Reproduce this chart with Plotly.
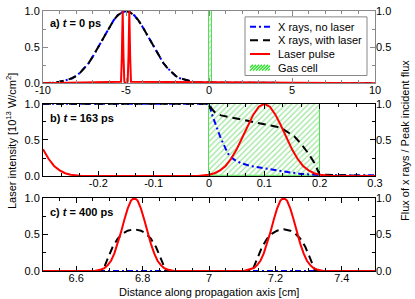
import plotly.graph_objects as go

# ---------------- data ----------------
# Panel a) t = 0 ps
xa_xray = [-10, -9.75, -9.5, -9.25, -9.0, -8.75, -8.5, -8.25, -8.0, -7.75, -7.5, -7.25, -7.0,
           -6.75, -6.5, -6.25, -6.0, -5.75, -5.5, -5.25, -5.0, -4.75, -4.5, -4.25, -4.0,
           -3.75, -3.5, -3.25, -3.0, -2.75, -2.5, -2.25, -2.0, -1.75, -1.5, -1.25, -1.0,
           -0.75, -0.5, -0.25, 0.0, 10.0]
ya_xray_nolaser = [0.00, 0.00, 0.01, 0.01, 0.02, 0.03, 0.05, 0.07, 0.10, 0.15, 0.21, 0.28, 0.37,
                   0.47, 0.57, 0.68, 0.78, 0.87, 0.94, 0.98, 1.00, 0.98, 0.94, 0.87, 0.78,
                   0.68, 0.57, 0.47, 0.37, 0.28, 0.21, 0.15, 0.10, 0.07, 0.05, 0.03, 0.02,
                   0.01, 0.01, 0.00, 0.00, 0.00]
ya_xray_laser = list(ya_xray_nolaser)
xa_laser = [-10, -5.3, -5.25, -5.2, -5.15, -5.1, -5.0, -4.9, -4.85, -4.8, -4.75, -4.7, 10]
ya_laser = [0.0, 0.02, 0.37, 1.00, 0.37, 0.02, 0.0, 0.02, 0.37, 1.00, 0.37, 0.02, 0.0]

# Panel b) t = 163 ps
xb_nolaser = [-0.3, 0.0, 0.005, 0.012, 0.021, 0.03, 0.036, 0.045, 0.057, 0.075, 0.1, 0.13,
              0.166, 0.2, 0.3]
yb_nolaser = [1.0, 1.0, 0.86, 0.71, 0.53, 0.38, 0.29, 0.23, 0.18, 0.14, 0.105, 0.07,
              0.03, 0.015, 0.01]
xb_laser_x = [-0.3, 0.0, 0.005, 0.012, 0.022, 0.046, 0.07, 0.1, 0.124, 0.136, 0.154, 0.166,
              0.178, 0.19, 0.2, 0.3]
yb_laser_x = [1.0, 1.0, 0.93, 0.87, 0.84, 0.80, 0.77, 0.72, 0.68, 0.64, 0.55, 0.45,
              0.33, 0.19, 0.02, 0.0]
xb_pulse = [-0.3, -0.29, -0.28, -0.27, -0.26, -0.25, -0.23, -0.2, -0.02, 0.0, 0.01, 0.02,
            0.03, 0.04, 0.05, 0.06, 0.07, 0.08, 0.09, 0.10, 0.11, 0.12, 0.13, 0.14, 0.15,
            0.16, 0.17, 0.18, 0.19, 0.20, 0.22, 0.25, 0.3]
yb_pulse = [0.37, 0.24, 0.14, 0.08, 0.04, 0.02, 0.00, 0.0, 0.0, 0.02, 0.04, 0.08,
            0.14, 0.24, 0.37, 0.53, 0.70, 0.85, 0.96, 1.00, 0.96, 0.85, 0.70, 0.53, 0.37,
            0.24, 0.14, 0.08, 0.04, 0.02, 0.00, 0.0, 0.0]

# Panel c) t = 400 ps
xc_nolaser = [6.5, 7.5]
yc_nolaser = [0.0, 0.0]
xc_laser_x = [6.5, 6.68, 6.695, 6.71, 6.725, 6.74, 6.755, 6.775, 6.795, 6.81, 6.825, 6.84,
              6.855, 6.87, 7.13, 7.145, 7.16, 7.175, 7.19, 7.205, 7.225, 7.245, 7.26, 7.275,
              7.29, 7.305, 7.32, 7.5]
yc_laser_x = [0.0, 0.0, 0.17, 0.33, 0.44, 0.51, 0.55, 0.57, 0.55, 0.51, 0.44, 0.33,
              0.17, 0.0, 0.0, 0.17, 0.33, 0.44, 0.51, 0.55, 0.57, 0.55, 0.51, 0.44,
              0.33, 0.17, 0.0, 0.0]
xc_pulse = [6.5, 6.655, 6.675, 6.685, 6.695, 6.705, 6.715, 6.725, 6.735, 6.745, 6.755, 6.765,
            6.775, 6.785, 6.795, 6.805, 6.815, 6.825, 6.835, 6.845, 6.855, 6.865, 6.875, 6.895,
            7.105, 7.125, 7.135, 7.145, 7.155, 7.165, 7.175, 7.185, 7.195, 7.205, 7.215,
            7.225, 7.235, 7.245, 7.255, 7.265, 7.275, 7.285, 7.295, 7.305, 7.315, 7.325,
            7.345, 7.5]
yc_pulse = [0.0, 0.0, 0.02, 0.04, 0.08, 0.14, 0.24, 0.37, 0.53, 0.70, 0.85, 0.96,
            1.00, 0.96, 0.85, 0.70, 0.53, 0.37, 0.24, 0.14, 0.08, 0.04, 0.02, 0.0,
            0.0, 0.02, 0.04, 0.08, 0.14, 0.24, 0.37, 0.53, 0.70, 0.85, 0.96,
            1.00, 0.96, 0.85, 0.70, 0.53, 0.37, 0.24, 0.14, 0.08, 0.04, 0.02,
            0.0, 0.0]

gas_cell = [0.0, 0.2]  # start, end [cm]
gas_cell_height = 1.0

panel_labels = ["<b>a) <i>t</i> = 0 ps</b>", "<b>b) <i>t</i> = 163 ps</b>",
                "<b>c) <i>t</i> = 400 ps</b>"]
series_names = ["X rays, no laser", "X rays, with laser", "Laser pulse", "Gas cell"]

# ---------------- styles ----------------
FONT = "Liberation Sans, Arial, sans-serif"
BLUE = "#0000ff"
RED = "#ff0000"
GREEN = "#33cc33"
BLUE_DASH = "6px,3px,2px,3px"
BLACK_DASH = "8px,5px"

W, H = 415, 299
ML, MR, MT, MB = 43, 40, 5, 28
PW, PH = W - ML - MR, H - MT - MB

def px2paper(px, py):
    return (px - ML) / PW, (H - MB - py) / PH

fig = go.Figure()

def add_panel(n, xr_nl, yr_nl, xr_l, yr_l, xp, yp, with_gas):
    xa = "x" if n == 1 else f"x{n}"
    ya = "y" if n == 1 else f"y{n}"
    if with_gas:
        fig.add_trace(go.Bar(
            x=[(gas_cell[0] + gas_cell[1]) / 2], y=[gas_cell_height],
            width=[gas_cell[1] - gas_cell[0]], base=0,
            name=series_names[3], showlegend=False,
            marker=dict(color="white",
                        pattern=dict(shape="/", fgcolor=GREEN, bgcolor="white",
                                     size=4, solidity=0.3),
                        line=dict(color="#55dd55", width=1)),
            xaxis=xa, yaxis=ya))
    fig.add_trace(go.Scatter(x=xr_nl, y=yr_nl, mode="lines", name=series_names[0],
                             showlegend=False,
                             line=dict(color=BLUE, width=2, dash=BLUE_DASH),
                             xaxis=xa, yaxis=ya))
    fig.add_trace(go.Scatter(x=xr_l, y=yr_l, mode="lines", name=series_names[1],
                             showlegend=False,
                             line=dict(color="black", width=2, dash=BLACK_DASH),
                             xaxis=xa, yaxis=ya))
    fig.add_trace(go.Scatter(x=xp, y=yp, mode="lines", name=series_names[2],
                             showlegend=False,
                             line=dict(color=RED, width=2),
                             xaxis=xa, yaxis=ya))

add_panel(1, xa_xray, ya_xray_nolaser, xa_xray, ya_xray_laser, xa_laser, ya_laser, True)
add_panel(2, xb_nolaser, yb_nolaser, xb_laser_x, yb_laser_x, xb_pulse, yb_pulse, True)
add_panel(3, xc_nolaser, yc_nolaser, xc_laser_x, yc_laser_x, xc_pulse, yc_pulse, False)

domains = [[0.722, 1.0], [0.365, 0.643], [0.0, 0.282]]
line_cols = ["#888888", "black", "black"]
x_ranges = [[-10, 10], [-0.3, 0.3], [6.5, 7.5]]
x_tickvals = [[-10, -5, 0, 5, 10], [-0.2, -0.1, 0, 0.1, 0.2, 0.3], [6.6, 6.8, 7.0, 7.2, 7.4]]
x_ticktext = [["-10", "-5", "0", "5", "10"], ["-0.2", "-0.1", "0", "0.1", "0.2", "0.3"],
              ["6.6", "6.8", "7", "7.2", "7.4"]]
x_minor = [1, 0.1 / 3, 0.05]
x_tick0 = [-10, -0.3, 6.5]
right_tickvals = [[0.5, 1.0], [0.5, 1.0], [0.0, 0.5, 1.0]]

tickfont = dict(family=FONT, size=11, color="black")
layout = {}
for i in range(3):
    n = i + 1
    xk = "xaxis" if n == 1 else f"xaxis{n}"
    yk = "yaxis" if n == 1 else f"yaxis{n}"
    yanchor = "y" if n == 1 else f"y{n}"
    xanchor = "x" if n == 1 else f"x{n}"
    lc = line_cols[i]
    layout[xk] = dict(anchor=yanchor, range=x_ranges[i], tickvals=x_tickvals[i],
                      ticktext=x_ticktext[i], ticks="inside", ticklen=5, tickcolor=lc,
                      showline=True, linecolor=lc, linewidth=1, mirror="ticks",
                      showgrid=False, zeroline=False, tickfont=tickfont,
                      ticklabelstandoff=-3,
                      minor=dict(dtick=x_minor[i], tick0=x_tick0[i], ticks="inside",
                                 ticklen=3, tickcolor=lc, showgrid=False))
    layout[yk] = dict(anchor=xanchor, domain=domains[i], range=[0, 1],
                      tickvals=[0, 0.5, 1.0], ticktext=["0.0", "0.5", "1.0"],
                      ticks="inside", ticklen=5, tickcolor=lc,
                      showline=True, linecolor=lc, linewidth=1, mirror=True,
                      showgrid=False, zeroline=False, tickfont=tickfont,
                      minor=dict(dtick=0.25, ticks="inside", ticklen=3, tickcolor=lc,
                                 showgrid=False))
    rk = f"yaxis{n + 3}"
    layout[rk] = dict(overlaying=yanchor, anchor=xanchor, side="right", range=[0, 1],
                      tickvals=right_tickvals[i],
                      ticktext=["%.1f" % v for v in right_tickvals[i]],
                      ticks="inside", ticklen=5, tickcolor=lc, showline=False,
                      showgrid=False, zeroline=False, tickfont=tickfont,
                      minor=dict(dtick=0.25, ticks="inside", ticklen=3, tickcolor=lc,
                                 showgrid=False))

fig.update_layout(**layout)

for i in range(3):
    n = i + 1
    fig.add_trace(go.Scatter(x=[x_ranges[i][0]], y=[0], mode="markers",
                             marker=dict(opacity=0), showlegend=False, hoverinfo="skip",
                             xaxis="x" if n == 1 else f"x{n}", yaxis=f"y{n + 3}"))

annotations = []
shapes = []
label_y = [0.84, 0.81, 0.80]
for i in range(3):
    n = i + 1
    annotations.append(dict(text=panel_labels[i], xref=("x" if n == 1 else f"x{n}") + " domain",
                            yref=("y" if n == 1 else f"y{n}") + " domain",
                            x=0.015, y=label_y[i], xanchor="left", yanchor="middle",
                            showarrow=False, font=dict(family=FONT, size=11, color="black")))
annotations.append(dict(text="Laser intensity [10<sup>13</sup> W/cm<sup>2</sup>]",
                        xref="paper", yref="paper", x=px2paper(11, 0)[0], y=0.5, textangle=-90,
                        showarrow=False, xanchor="center", yanchor="middle",
                        font=dict(family=FONT, size=11, color="black")))
annotations.append(dict(text="Flux of x rays / Peak incident flux",
                        xref="paper", yref="paper", x=px2paper(405, 0)[0], y=0.5, textangle=-90,
                        showarrow=False, xanchor="center", yanchor="middle",
                        font=dict(family=FONT, size=11, color="black")))
annotations.append(dict(text="Distance along propagation axis [cm]",
                        xref="paper", yref="paper", x=0.5, y=px2paper(0, 292.5)[1],
                        showarrow=False, xanchor="center", yanchor="middle",
                        font=dict(family=FONT, size=11, color="black")))

# ---- manual legend (compact, as in the reference) ----
bx0, by0 = px2paper(245, 71)
bx1, by1 = px2paper(367, 11)
shapes.append(dict(type="rect", xref="paper", yref="paper", x0=bx0, y0=by0, x1=bx1, y1=by1,
                   line=dict(color="#888888", width=1), fillcolor="white", layer="above"))
row_py = [21, 35, 49, 63]
sx0, sx1, tx = 250, 270, 276
styles = [dict(color=BLUE, width=2, dash=BLUE_DASH),
          dict(color="black", width=2, dash=BLACK_DASH),
          dict(color=RED, width=2)]
for k in range(3):
    xa0, ya0 = px2paper(sx0, row_py[k])
    xa1, _ = px2paper(sx1, row_py[k])
    shapes.append(dict(type="line", xref="paper", yref="paper", x0=xa0, x1=xa1, y0=ya0, y1=ya0,
                       line=styles[k], layer="above"))
# hatched sample for gas cell
hx0, hy0 = px2paper(sx0, row_py[3] + 3)
hx1, hy1 = px2paper(sx1, row_py[3] - 3)
shapes.append(dict(type="rect", xref="paper", yref="paper", x0=hx0, y0=hy0, x1=hx1, y1=hy1,
                   line=dict(width=0), fillcolor="#eaffea", layer="above"))
for off in range(-6, 20, 3):
    a0 = max(off, 0)
    a1 = min(off + 6, 20)
    if a1 <= a0:
        continue
    p0 = px2paper(sx0 + a0, row_py[3] + 3 - (a0 - off))
    p1 = px2paper(sx0 + a1, row_py[3] + 3 - (a1 - off))
    shapes.append(dict(type="line", xref="paper", yref="paper", x0=p0[0], y0=p0[1],
                       x1=p1[0], y1=p1[1], line=dict(color="#22dd22", width=1.2),
                       layer="above"))
for k in range(4):
    xt, yt = px2paper(tx, row_py[k])
    annotations.append(dict(text=series_names[k], xref="paper", yref="paper", x=xt, y=yt,
                            xanchor="left", yanchor="middle", showarrow=False,
                            font=dict(family=FONT, size=11, color="black")))

fig.update_layout(
    width=W, height=H,
    margin=dict(l=ML, r=MR, t=MT, b=MB),
    paper_bgcolor="white", plot_bgcolor="white",
    annotations=annotations, shapes=shapes,
    bargap=0, showlegend=False,
    font=dict(family=FONT, size=11, color="black"),
)

fig.write_html("out.html", config={"displayModeBar": False},
               post_script="document.body.style.margin='0px';")
